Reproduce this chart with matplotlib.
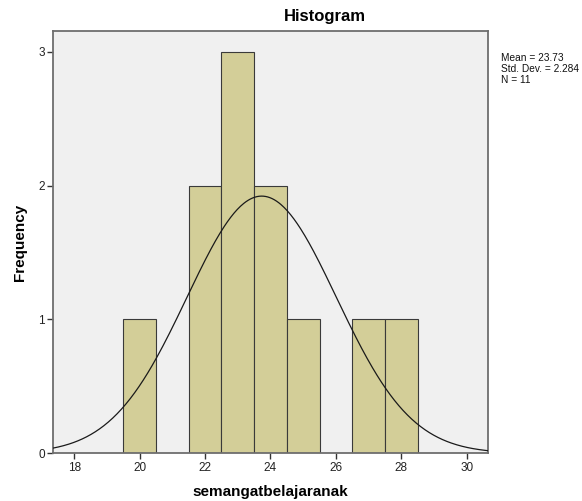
import numpy as np
import matplotlib.pyplot as plt

plt.rcParams['font.family'] = ['Liberation Sans', 'DejaVu Sans']

# bin centres and counts
bin_centers = [20, 22, 23, 24, 25, 27, 28]
counts = [1, 2, 3, 2, 1, 1, 1]
mean = 23.73
sd = 2.284
n = 11
bin_width = 1.0
stats_lines = ['Mean = 23.73', 'Std. Dev. = 2.284', 'N = 11']

W, H = 582, 501
fig = plt.figure(figsize=(W / 100, H / 100), dpi=100)
ax = fig.add_axes([52.7 / W, 1 - 453.3 / H, (488.3 - 52.7) / W, (453.3 - 30.7) / H])
ax.set_facecolor('#f0f0f0')

ax.bar(bin_centers, counts, width=bin_width, color='#d3ce98',
       edgecolor='#3a3a3a', linewidth=0.8, zorder=2)

xlo, xhi = 17.34, 30.66
xs = np.linspace(xlo, xhi, 400)
pdf = n * bin_width / (sd * np.sqrt(2 * np.pi)) * np.exp(-0.5 * ((xs - mean) / sd) ** 2)
ax.plot(xs, pdf, color='#1a1a1a', linewidth=0.9, zorder=3)

ax.set_xlim(xlo, xhi)
ax.set_ylim(0, 3.157)
ax.set_xticks([18, 20, 22, 24, 26, 28, 30])
ax.set_yticks([0, 1, 2, 3])

for s in ax.spines.values():
    s.set_color('#6e6e6e')
    s.set_linewidth(1.3)
ax.tick_params(direction='out', length=4.5, width=1, colors='#333333',
               labelsize=8.5, labelcolor='#222222')
ax.tick_params(axis='x', pad=2)
ax.tick_params(axis='y', pad=1)

fig.text(325 / W, 1 - 16 / H, 'Histogram', fontsize=12, fontweight='bold',
         ha='center', va='center')
ax.set_xlabel('semangatbelajaranak', fontsize=11, fontweight='bold')
ax.xaxis.set_label_coords(0.5, (453.3 - 492) / (453.3 - 30.7))
ax.xaxis.label.set_va('center')
ax.set_ylabel('Frequency', fontsize=11, fontweight='bold')
ax.yaxis.set_label_coords((20 - 52.7) / (488.3 - 52.7), 0.5)
ax.yaxis.label.set_va('center')

for i, line in enumerate(stats_lines):
    fig.text(500.5 / W, 1 - (60.7 + 11 * i) / H, line, fontsize=7.3,
             ha='left', va='baseline', color='#111111')

fig.savefig('out.png', dpi=100)
